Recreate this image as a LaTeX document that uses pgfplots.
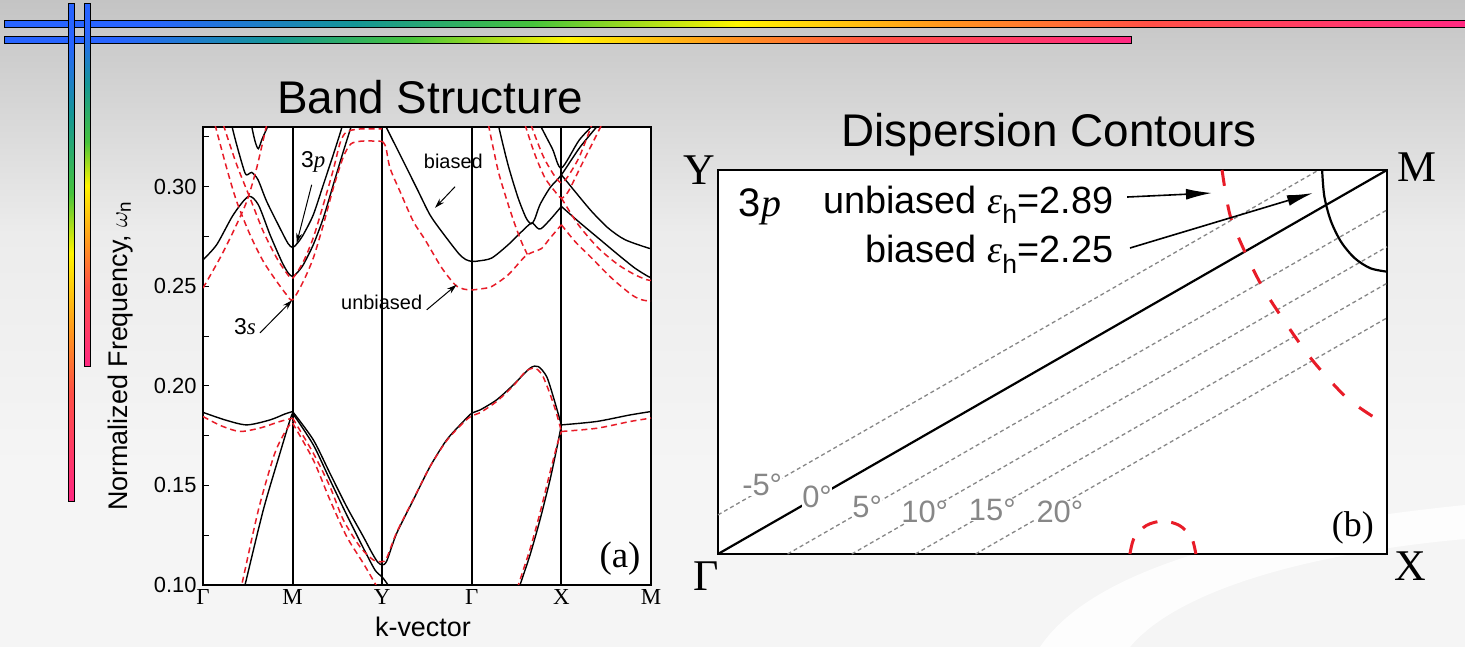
\documentclass[border=0pt]{standalone}
\usepackage{fontspec}
\setmainfont{Liberation Sans}
\newfontfamily\tnr{Liberation Serif}
\usepackage{pgfplots}
\pgfplotsset{compat=1.18}
\usetikzlibrary{arrows.meta}

\newcommand{\fs}[1]{\fontsize{#1}{#1}\selectfont}

\definecolor{unbred}{RGB}{232,28,40}
\definecolor{contour}{RGB}{135,135,135}
\definecolor{rbBlue}{RGB}{40,100,255}
\definecolor{rbTeal}{RGB}{20,150,150}
\definecolor{rbGreen}{RGB}{70,195,60}
\definecolor{rbYellow}{RGB}{255,245,0}
\definecolor{rbOrange}{RGB}{255,150,30}
\definecolor{rbRed}{RGB}{255,80,70}
\definecolor{rbPink}{RGB}{255,40,130}
\definecolor{bgtop}{RGB}{196,196,196}
\definecolor{bgmid}{RGB}{236,236,236}
\definecolor{bglow}{RGB}{245,245,245}

\pgfdeclarehorizontalshading{rainbowH}{100bp}{color(0bp)=(rbBlue); color(25bp)=(rbBlue); color(30bp)=(rbBlue); color(37bp)=(rbTeal); color(43bp)=(rbGreen); color(50bp)=(rbYellow); color(57bp)=(rbOrange); color(64bp)=(rbRed); color(75bp)=(rbPink); color(100bp)=(rbPink)}
\pgfdeclareverticalshading{rainbowV}{100bp}{color(0bp)=(rbPink); color(25bp)=(rbPink); color(36bp)=(rbRed); color(42bp)=(rbOrange); color(50bp)=(rbYellow); color(56bp)=(rbGreen); color(64bp)=(rbTeal); color(71bp)=(rbBlue); color(75bp)=(rbBlue); color(100bp)=(rbBlue)}

\pgfplotsset{
  bnd/.style={black, line width=1.4bp, smooth, tension=0.45, no markers},
  ubd/.style={unbred, line width=1.5bp, dash pattern=on 6bp off 4bp, smooth, tension=0.45, no markers},
  grayd/.style={contour, line width=1.3bp, dash pattern=on 4bp off 3bp, no markers},
}

\begin{document}
\begin{tikzpicture}
\useasboundingbox (0,0) rectangle (1465bp,647bp);
% slide background
\fill[bglow] (0,0) rectangle (1465bp,647bp);
\shade[top color=bgtop, bottom color=bglow, middle color=bgmid] (0,180bp) rectangle (1465bp,647bp);
\fill[white, opacity=0.85] (1040bp,0) .. controls (1100bp,90bp) and (1300bp,125bp) .. (1465bp,142bp)
  -- (1465bp,108bp) .. controls (1320bp,95bp) and (1180bp,60bp) .. (1130bp,0) -- cycle;

% rainbow rules
\shade[shading=rainbowH, draw=black, line width=1bp] (4bp,619.5bp) rectangle (1470bp,626bp);
\shade[shading=rainbowH, draw=black, line width=1bp] (4bp,603.5bp) rectangle (1131bp,610bp);
\shade[shading=rainbowV, draw=black, line width=1bp] (68bp,145bp) rectangle (74bp,643bp);
\shade[shading=rainbowV, draw=black, line width=1bp] (84.5bp,280bp) rectangle (90.5bp,643bp);

% titles
\node[font=\fs{46}, anchor=base] at (430bp,533bp) {Band Structure};
\node[font=\fs{46}, anchor=base] at (1049bp,500bp) {Dispersion Contours};

% ---------------- (a) band structure ----------------
\begin{axis}[
  at={(203bp,62bp)}, anchor=south west,
  scale only axis, width=448bp, height=458bp,
  xmin=0, xmax=5, ymin=0.10, ymax=0.33,
  axis background/.style={fill=white},
  axis line style={line width=1.8bp},
  xtick={0,1,2,3,4,5},
  xticklabels={Γ,M,Y,Γ,X,M},
  xticklabel style={font=\tnr\fs{23}, inner sep=2bp, yshift=-2bp},
  major x tick style={draw=none},
  xtick pos=bottom,
  xmajorgrids, x grid style={black, line width=2bp},
  ytick={0.10,0.15,0.20,0.25,0.30},
  minor ytick={0.125,0.175,0.225,0.275,0.325},
  ytick pos=left, tick align=inside,
  major tick length=6bp, minor tick length=6bp,
  every tick/.style={black, line width=1bp},
  yticklabel style={font=\fs{22}, xshift=-3bp, /pgf/number format/fixed, /pgf/number format/fixed zerofill, /pgf/number format/precision=2, /pgf/number format/assume math mode=true},
  ylabel={Normalized Frequency, $\omega_{\mathrm{n}}$},
  ylabel style={font=\fs{27}, at={(axis description cs:-0.185,0.5)}, anchor=center},
  xlabel={k-vector},
  xlabel style={font=\fs{27}, at={(axis description cs:0.491,-0.0917)}, anchor=center},
]
% biased (solid) upper bands
\addplot[bnd] coordinates {(0,0.2633)(0.153,0.2709)(0.338,0.2859)(0.506,0.2951)(0.617,0.2910)(0.748,0.2759)(0.878,0.2625)(0.949,0.2568)(1.0,0.2549)(1.051,0.2568)(1.119,0.2608)(1.231,0.2709)(1.343,0.2843)(1.454,0.3010)(1.566,0.3177)(1.660,0.3312)(1.70,0.338)};
\addplot[bnd] coordinates {(0.300,0.340)(0.320,0.3312)(0.391,0.3186)(0.469,0.3069)(0.505,0.3062)(0.544,0.3072)(0.614,0.3035)(0.711,0.2926)(0.859,0.2792)(0.949,0.2715)(1.0,0.2695)(1.051,0.2715)(1.119,0.2759)(1.231,0.2859)(1.343,0.3010)(1.454,0.3161)(1.548,0.3295)(1.58,0.336)};
\addplot[bnd] coordinates {(0.52,0.338)(0.54,0.3312)(0.58,0.3230)(0.617,0.3191)(0.66,0.3240)(0.73,0.3312)(0.75,0.336)};
\addplot[bnd] coordinates {(2.0,0.3340)(2.03,0.3312)(2.199,0.3161)(2.385,0.2993)(2.533,0.2859)(2.664,0.2775)(2.849,0.2667)(2.93,0.2635)(3.0,0.2625)(3.07,0.2627)(3.222,0.2642)(3.407,0.2709)(3.557,0.2775)(3.668,0.2818)(3.728,0.2794)(3.772,0.2789)(3.873,0.2834)(4.0,0.2901)};
\addplot[bnd] coordinates {(4.0,0.2901)(4.189,0.2826)(4.412,0.2742)(4.635,0.2658)(4.821,0.2591)(4.97,0.2549)(5.0,0.2545)};
\addplot[bnd] coordinates {(3.27,0.340)(3.296,0.3312)(3.404,0.3111)(3.516,0.2945)(3.605,0.2844)(3.661,0.2814)(3.70,0.2835)(3.761,0.2910)(3.873,0.2995)(4.0,0.3060)(4.21,0.3200)(4.45,0.3330)};
\addplot[bnd] coordinates {(4.0,0.3060)(4.152,0.2976)(4.338,0.2876)(4.523,0.2792)(4.710,0.2734)(4.97,0.2692)(5.0,0.2691)};
\addplot[bnd] coordinates {(3.73,0.336)(3.761,0.3312)(3.9,0.3190)(4.0,0.3094)(4.2,0.3235)(4.40,0.3330)};
% unbiased (dashed) upper bands
\addplot[ubd] coordinates {(0,0.2491)(0.190,0.2642)(0.338,0.2775)(0.488,0.2926)(0.599,0.3094)(0.711,0.3312)(0.73,0.335)};
\addplot[ubd] coordinates {(0.11,0.336)(0.134,0.3312)(0.264,0.3094)(0.376,0.2926)(0.525,0.2759)(0.673,0.2625)(0.823,0.2524)(0.934,0.2457)(1.0,0.2432)(1.119,0.2524)(1.231,0.2642)(1.343,0.2809)(1.454,0.2993)(1.566,0.3150)(1.65,0.3215)(1.75,0.3228)(1.85,0.3230)(2.0,0.3228)};
\addplot[ubd] coordinates {(0.20,0.336)(0.227,0.3312)(0.376,0.3111)(0.525,0.2943)(0.673,0.2775)(0.823,0.2642)(0.934,0.2566)(1.0,0.2541)(1.119,0.2623)(1.231,0.2744)(1.343,0.2910)(1.454,0.3085)(1.53,0.3220)(1.6,0.3275)(1.75,0.3290)(2.0,0.3290)};
\addplot[ubd] coordinates {(2.0,0.3228)(2.04,0.3200)(2.087,0.3094)(2.199,0.2976)(2.347,0.2826)(2.478,0.2734)(2.664,0.2593)(2.813,0.2508)(2.902,0.2487)(3.0,0.2482)(3.1,0.2487)(3.222,0.2499)(3.407,0.2558)(3.594,0.2650)(3.70,0.2675)(3.78,0.2690)(3.87,0.2740)(4.0,0.2809)};
\addplot[ubd] coordinates {(4.0,0.2809)(4.152,0.2725)(4.338,0.2642)(4.561,0.2541)(4.785,0.2457)(4.90,0.2432)(5.0,0.2425)};
\addplot[ubd] coordinates {(3.16,0.336)(3.185,0.3312)(3.296,0.3077)(3.407,0.2910)(3.482,0.2809)(3.557,0.2720)(3.62,0.2660)};
\addplot[ubd] coordinates {(3.57,0.336)(3.594,0.3312)(3.705,0.3161)(3.817,0.3044)(3.929,0.2976)(4.0,0.2943)(4.077,0.2976)(4.226,0.3111)(4.375,0.3244)(4.45,0.3312)};
\addplot[ubd] coordinates {(4.0,0.2943)(4.189,0.2809)(4.412,0.2692)(4.635,0.2608)(4.821,0.2558)(4.952,0.2533)(5.0,0.2530)};
\addplot[ubd] coordinates {(3.64,0.336)(3.66,0.3312)(3.80,0.3150)(3.93,0.3050)(4.0,0.3020)(4.07,0.3050)(4.20,0.3150)(4.34,0.3312)};
% biased lower bands
\addplot[bnd] coordinates {(0,0.1867)(0.246,0.1829)(0.488,0.1804)(0.748,0.1829)(0.915,0.1859)(1.0,0.1871)};
\addplot[bnd] coordinates {(1.0,0.1871)(1.231,0.1729)(1.417,0.1561)(1.604,0.1393)(1.789,0.1243)(1.886,0.1161)(1.95,0.1115)(2.0,0.1101)(2.05,0.1120)(2.162,0.1260)(2.347,0.1427)(2.533,0.1594)(2.72,0.1729)(2.905,0.1821)(3.0,0.1863)(3.092,0.1879)(3.278,0.1930)(3.463,0.2005)(3.650,0.2089)(3.742,0.2097)(3.835,0.2047)(3.909,0.1946)(4.0,0.1804)};
\addplot[bnd] coordinates {(4.0,0.1804)(4.391,0.1821)(4.766,0.1854)(5.0,0.1871)};
\addplot[bnd] coordinates {(0.46,0.0985)(0.469,0.10)(0.673,0.1377)(0.859,0.1662)(0.971,0.1829)(1.0,0.1863)};
\addplot[bnd] coordinates {(1.0,0.1863)(1.231,0.1704)(1.417,0.1528)(1.604,0.1352)(1.789,0.1186)(1.92,0.1075)(2.0,0.1040)(2.065,0.10)(2.08,0.098)};
\addplot[bnd] coordinates {(3.53,0.0985)(3.538,0.10)(3.650,0.1151)(3.761,0.1327)(3.873,0.1528)(3.95,0.1690)(4.0,0.1804)};
% unbiased lower bands
\addplot[ubd] coordinates {(0,0.1846)(0.2,0.1800)(0.413,0.1771)(0.65,0.1790)(0.85,0.1820)(1.0,0.1838)};
\addplot[ubd] coordinates {(1.0,0.1838)(1.231,0.1662)(1.417,0.1494)(1.566,0.1327)(1.752,0.1192)(1.9,0.1126)(2.0,0.1117)(2.05,0.1135)(2.162,0.1265)(2.347,0.1430)(2.533,0.1594)(2.72,0.1725)(2.905,0.1815)(3.0,0.1850)(3.092,0.1865)(3.278,0.1922)(3.463,0.2000)(3.60,0.2072)(3.70,0.2089)(3.78,0.2060)(3.86,0.1975)(3.94,0.1870)(4.0,0.1771)};
\addplot[ubd] coordinates {(4.0,0.1771)(4.394,0.1787)(4.766,0.1821)(5.0,0.1838)};
\addplot[ubd] coordinates {(0.42,0.0985)(0.432,0.10)(0.62,0.138)(0.80,0.166)(0.93,0.178)(1.0,0.1821)};
\addplot[ubd] coordinates {(1.0,0.1813)(1.231,0.1628)(1.417,0.1427)(1.604,0.1243)(1.789,0.1109)(1.93,0.10)(1.95,0.098)};
\addplot[ubd] coordinates {(3.51,0.0985)(3.519,0.10)(3.65,0.118)(3.76,0.136)(3.87,0.156)(3.95,0.170)(4.0,0.1771)};
% annotations
\node[font=\fs{23}] at (axis cs:1.231,0.3123) {3{\tnr\itshape p}};
\draw[line width=1bp, -{Stealth[length=10bp,width=6bp]}] (axis cs:1.213,0.3010) -- (axis cs:1.046,0.2717);
\node[font=\fs{23}] at (axis cs:0.469,0.2297) {3{\tnr\itshape s}};
\draw[line width=1bp, -{Stealth[length=10bp,width=6bp]}] (axis cs:0.636,0.2266) -- (axis cs:0.995,0.2430);
\node[font=\fs{20}] at (axis cs:2.794,0.3127) {biased};
\draw[line width=1bp, -{Stealth[length=10bp,width=6bp]}] (axis cs:2.813,0.3000) -- (axis cs:2.589,0.2894);
\node[font=\fs{20}] at (axis cs:1.994,0.2417) {unbiased};
\draw[line width=1bp, -{Stealth[length=10bp,width=6bp]}] (axis cs:2.497,0.2382) -- (axis cs:2.831,0.2508);
\node[font=\tnr\fs{37}] at (axis cs:4.654,0.1131) {(a)};
\end{axis}

% ---------------- (b) dispersion contours ----------------
\begin{axis}[
  at={(718bp,93bp)}, anchor=south west,
  scale only axis, width=669bp, height=384bp,
  xmin=0, xmax=1, ymin=0, ymax=0.574,
  axis background/.style={fill=white},
  axis line style={line width=2.6bp},
  ticks=none, clip=false,
]
% propagation directions
\addplot[grayd] coordinates {(0,0.0585)(0.898,0.574)};
\addplot[grayd] coordinates {(0.104,0)(1,0.5143)};
\addplot[grayd] coordinates {(0.200,0)(1,0.4592)};
\addplot[grayd] coordinates {(0.295,0)(1,0.4047)};
\addplot[grayd] coordinates {(0.385,0)(1,0.3530)};
\addplot[black, line width=2.2bp, no markers] coordinates {(0,0)(1,0.574)};
% biased contour around M
\addplot[black, line width=2.2bp, smooth, no markers] coordinates {(0.903,0.574)(0.9063,0.5346)(0.916,0.498)(0.9314,0.4665)(0.9515,0.4424)(0.9749,0.4272)(1.0,0.422)};
% unbiased contours
\addplot[unbred, line width=3bp, dash pattern=on 16bp off 19bp, smooth, no markers] coordinates {(0.7534,0.5740)(0.7653,0.5067)(0.7877,0.4514)(0.8146,0.3976)(0.8505,0.3423)(0.8894,0.2885)(0.9402,0.2332)(0.9895,0.1988)(1.0,0.1958)};
\addplot[unbred, line width=3bp, dash pattern=on 16bp off 14bp, smooth, no markers] coordinates {(0.6157,0)(0.6223,0.0247)(0.6404,0.0427)(0.665,0.0493)(0.6897,0.0427)(0.7077,0.0247)(0.7143,0)};
% direction labels
\begin{scope}[every node/.style={font=\fs{31}, text=contour, fill=white, inner sep=0.3bp}]
\node at (axis cs:0.066,0.103) {-5°};
\node at (axis cs:0.148,0.085) {0°};
\node at (axis cs:0.223,0.070) {5°};
\node at (axis cs:0.309,0.063) {10°};
\node at (axis cs:0.410,0.066) {15°};
\node at (axis cs:0.511,0.063) {20°};
\end{scope}
% text and arrows
\node[anchor=base west, font=\fs{40}] at (axis cs:0.026,0.504) {3{\tnr\itshape p}};
\node[anchor=base east, font=\fs{38}] at (axis cs:0.5964,0.5097) {unbiased {\tnr\itshape ε}\textsubscript{h}=2.89};
\node[anchor=base east, font=\fs{38}] at (axis cs:0.5964,0.4350) {biased {\tnr\itshape ε}\textsubscript{h}=2.25};
\draw[line width=1.6bp, -{Latex[length=26bp,width=11bp]}] (axis cs:0.6114,0.5336) -- (axis cs:0.7384,0.5396);
\draw[line width=1.6bp, -{Latex[length=26bp,width=11bp]}] (axis cs:0.6158,0.4574) -- (axis cs:0.8894,0.5396);
\node[font=\tnr\fs{36}] at (axis cs:0.949,0.039) {(b)};
\end{axis}

% symmetry points of the rectangular zone
\node[font=\tnr\fs{44}] at (699bp,477bp) {Y};
\node[font=\tnr\fs{44}] at (1417bp,480bp) {M};
\node[font=\tnr\fs{44}] at (1410bp,81bp) {X};
\node[font=\tnr\fs{44}] at (706bp,71bp) {Γ};
\end{tikzpicture}
\end{document}
